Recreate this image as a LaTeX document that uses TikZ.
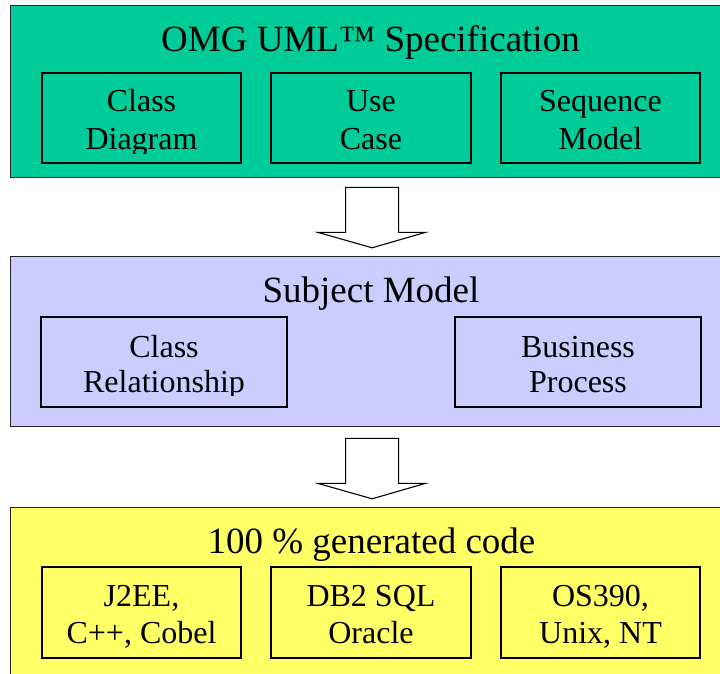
\documentclass[tikz,border=0pt]{standalone}
\usepackage{fontspec}
\setmainfont{Liberation Serif}
\usetikzlibrary{calc}
\definecolor{umlgreen}{RGB}{0,204,153}
\definecolor{sublav}{RGB}{204,204,255}
\definecolor{codeyel}{RGB}{255,255,102}
\tikzset{
  outerbox/.style={draw=black!85, line width=1.3pt, anchor=north west, inner sep=0pt},
  innerbox/.style={draw=black, line width=1.3pt, inner sep=0pt},
  titletext/.style={anchor=base, inner sep=0pt, font=\fontsize{37}{44}\selectfont},
  boxtext/.style={anchor=base, inner sep=0pt, font=\fontsize{32}{37}\selectfont},
  blockarrow/.style={draw=black, line width=1.1pt, fill=white, line join=miter},
}
\begin{document}
\begin{tikzpicture}[x=1pt,y=-1pt]
\useasboundingbox (0,0) rectangle (720,674);
\clip (0,0) rectangle (720,674);
\fill[white] (0,0) rectangle (720,674);

% outer boxes
\node[outerbox, fill=umlgreen, minimum width=715, minimum height=172] (omg) at (10,5) {};
\node[outerbox, fill=sublav, minimum width=715, minimum height=170] (subj) at (10,256) {};
\node[outerbox, fill=codeyel, minimum width=715, minimum height=180] (code) at (10,507) {};

% titles
\node[titletext] (omgt) at (370.5,52) {OMG UML™ Specification};
\node[titletext] (subjt) at (371,302) {Subject Model};
\node[titletext] (codet) at (371.5,553) {100 \% generated code};

% top row
\node[innerbox, minimum width=199, minimum height=90] (cd) at (141.5,118) {};
\node[innerbox, minimum width=200, minimum height=90] (uc) at (371,118) {};
\node[innerbox, minimum width=199, minimum height=90] (sq) at (600.5,118) {};
\node[boxtext] (cd1) at (141.5,112) {Class};
\begin{scope}
\clip (42,120) rectangle (241,153.3);
\node[boxtext] (cd2) at (141.5,149.3) {Diagram};
\end{scope}
\node[boxtext] (uc1) at (371,112) {Use};
\node[boxtext] (uc2) at (371,149.3) {Case};
\node[boxtext] (sq1) at (600.5,112) {Sequence};
\node[boxtext] (sq2) at (600.5,149.3) {Model};

% middle row
\node[innerbox, minimum width=246, minimum height=90] (cr) at (164,362) {};
\node[innerbox, minimum width=246, minimum height=90] (bp) at (578,362) {};
\node[boxtext] (cr1) at (164,357) {Class};
\begin{scope}
\clip (41,365) rectangle (287,395.7);
\node[boxtext] (cr2) at (164,392.7) {Relationship};
\end{scope}
\node[boxtext] (bp1) at (578,357) {Business};
\node[boxtext] (bp2) at (578,392.7) {Process};

% bottom row
\node[innerbox, minimum width=199, minimum height=91] (je) at (141.5,612.5) {};
\node[innerbox, minimum width=200, minimum height=91] (db) at (371,612.5) {};
\node[innerbox, minimum width=199, minimum height=91] (os) at (600.5,612.5) {};
\node[boxtext] (je1) at (141.5,606) {J2EE,};
\node[boxtext] (je2) at (141.5,643) {C++, Cobel};
\node[boxtext] (db1) at (371,606) {DB2 SQL};
\node[boxtext] (db2) at (371,643) {Oracle};
\node[boxtext] (os1) at (600.5,606) {OS390,};
\node[boxtext] (os2) at (600.5,643) {Unix, NT};

% block arrows between the layers
\coordinate (a1) at ($(omg.south)+(4,9)$);
\coordinate (a2) at ($(subj.south)+(4,11)$);
\foreach \s in {a1,a2}{
  \draw[blockarrow] ($(\s)+(-26.5,0)$) -- ($(\s)+(26.5,0)$) -- ($(\s)+(26.5,45)$)
    -- ($(\s)+(53.5,45)$) -- ($(\s)+(0,60.5)$) -- ($(\s)+(-54.5,45)$)
    -- ($(\s)+(-26.5,45)$) -- cycle;
}
\end{tikzpicture}
\end{document}
